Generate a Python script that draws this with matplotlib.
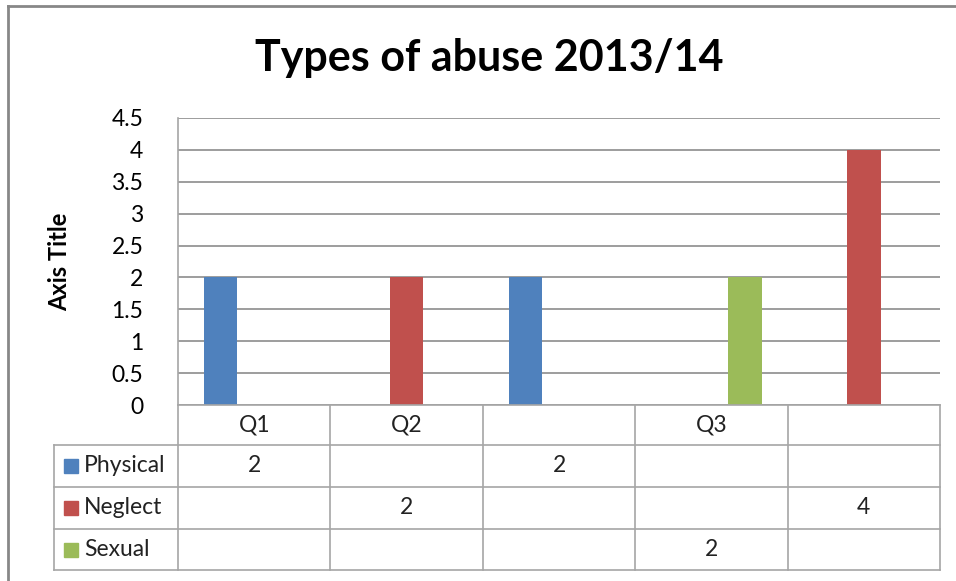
import matplotlib.pyplot as plt
from matplotlib.lines import Line2D
from matplotlib.patches import Rectangle

# data
categories = ["Q1", "Q2", "", "Q3", ""]
series_names = ["Physical", "Neglect", "Sexual"]
physical = [2, None, 2, None, None]
neglect = [None, 2, None, None, 4]
sexual = [None, None, None, 2, None]
series_colors = ["#4F81BD", "#C0504D", "#9BBB59"]
yticks = [0, 0.5, 1, 1.5, 2, 2.5, 3, 3.5, 4, 4.5]
title = "Types of abuse 2013/14"

W, H = 956, 581
FONT = "Lato"
GRID = "#8C8C8C"
TGRID = "#A6A6A6"
FS = 16.5


def fx(px):
    return px / W


def fy(py):
    return 1 - py / H


def main():
    fig = plt.figure(figsize=(W / 100, H / 100), dpi=100)
    fig.patch.set_facecolor("white")

    # outer chart border (left and top visible)
    fig.add_artist(Line2D([fx(8), fx(8)], [fy(6), 0], color="#878787", lw=2))
    fig.add_artist(Line2D([fx(8), 1], [fy(6), fy(6)], color="#878787", lw=2))

    # plot area
    left, right, top, bottom = 178, 940, 118, 405
    ax = fig.add_axes([fx(left), fy(bottom), fx(right - left), (bottom - top) / H])
    n = len(categories)
    ax.set_xlim(-0.5, n - 0.5)
    ax.set_ylim(0, 4.5)
    ax.set_yticks(yticks)
    ax.set_yticklabels([("%g" % v) for v in yticks], fontsize=FS, family=FONT)
    ax.yaxis.grid(True, color=GRID, lw=1.2)
    ax.set_axisbelow(True)
    ax.tick_params(axis="y", length=0, pad=25)
    ax.set_xticks([])
    for s in ["top", "right", "bottom"]:
        ax.spines[s].set_visible(False)
    ax.spines["left"].set_color(TGRID)
    ax.spines["left"].set_linewidth(1.2)

    w = 0.22
    all_series = [physical, neglect, sexual]
    for k, (vals, col) in enumerate(zip(all_series, series_colors)):
        xs = [i + (k - 1) * w for i, v in enumerate(vals) if v is not None]
        hs = [v for v in vals if v is not None]
        ax.bar(xs, hs, width=w, color=col, zorder=3)

    ax.set_ylabel("Axis Title", fontsize=17, fontweight="bold", family=FONT)
    ax.yaxis.set_label_coords((71 - left) / (right - left), 0.5)

    fig.text(fx(489), fy(58), title, fontsize=31, fontweight="bold", family=FONT,
             ha="center", va="center")

    # data table
    cat_w = (right - left) / n
    row_y = [405, 445, 487, 529, 570]
    leg_left = 54
    # horizontal lines
    fig.add_artist(Line2D([fx(left), fx(right)], [fy(row_y[0])] * 2, color=TGRID, lw=1.2))
    for y in row_y[1:]:
        fig.add_artist(Line2D([fx(leg_left), fx(right)], [fy(y)] * 2, color=TGRID, lw=1.2))
    # vertical lines
    fig.add_artist(Line2D([fx(leg_left)] * 2, [fy(row_y[1]), fy(row_y[-1])], color=TGRID, lw=1.2))
    for i in range(n + 1):
        x = left + i * cat_w
        fig.add_artist(Line2D([fx(x)] * 2, [fy(row_y[0]), fy(row_y[-1])], color=TGRID, lw=1.2))

    # category labels
    for i, c in enumerate(categories):
        cx = left + (i + 0.5) * cat_w
        fig.text(fx(cx), fy((row_y[0] + row_y[1]) / 2), c, fontsize=FS, family=FONT,
                 ha="center", va="center", color="#222222")

    # series rows
    for k, (name, vals, col) in enumerate(zip(series_names, all_series, series_colors)):
        cy = (row_y[k + 1] + row_y[k + 2]) / 2
        fig.add_artist(Rectangle((fx(64), fy(cy + 7)), fx(14), 14 / H, color=col))
        fig.text(fx(84), fy(cy), name, fontsize=FS, family=FONT, ha="left", va="center",
                 color="#222222")
        for i, v in enumerate(vals):
            if v is None:
                continue
            cx = left + (i + 0.5) * cat_w
            fig.text(fx(cx), fy(cy), "%g" % v, fontsize=FS, family=FONT,
                     ha="center", va="center", color="#222222")

    fig.savefig("out.png", dpi=100)


if __name__ == "__main__":
    main()
